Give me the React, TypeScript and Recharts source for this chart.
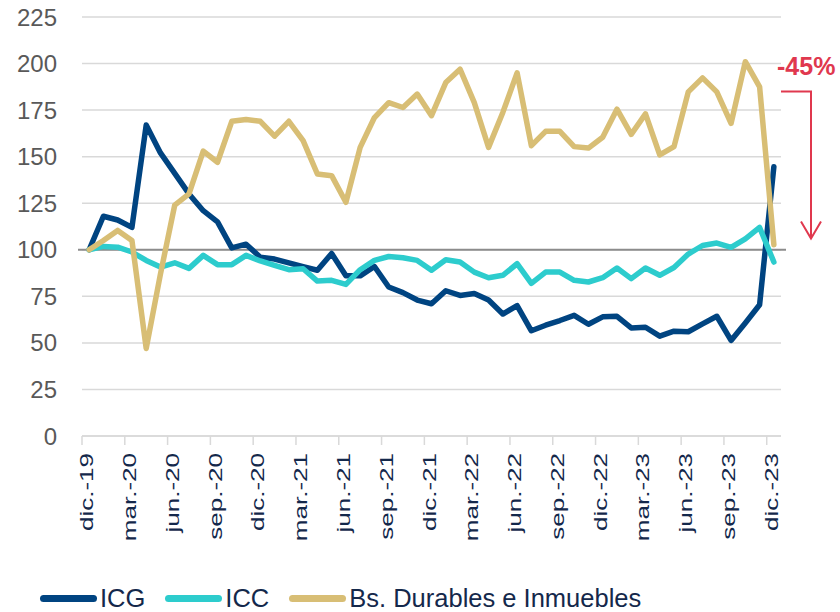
import {
  ComposedChart,
  Line,
  XAxis,
  YAxis,
  CartesianGrid,
  ReferenceLine,
  ReferenceArea,
} from 'recharts';

const months = [
  'dic.-19', 'ene.-20', 'feb.-20', 'mar.-20', 'abr.-20', 'may.-20', 'jun.-20', 'jul.-20', 'ago.-20',
  'sep.-20', 'oct.-20', 'nov.-20', 'dic.-20', 'ene.-21', 'feb.-21', 'mar.-21', 'abr.-21', 'may.-21',
  'jun.-21', 'jul.-21', 'ago.-21', 'sep.-21', 'oct.-21', 'nov.-21', 'dic.-21', 'ene.-22', 'feb.-22',
  'mar.-22', 'abr.-22', 'may.-22', 'jun.-22', 'jul.-22', 'ago.-22', 'sep.-22', 'oct.-22', 'nov.-22',
  'dic.-22', 'ene.-23', 'feb.-23', 'mar.-23', 'abr.-23', 'may.-23', 'jun.-23', 'jul.-23', 'ago.-23',
  'sep.-23', 'oct.-23', 'nov.-23', 'dic.-23',
];

const icg = [
  100, 118, 116, 112, 167, 152, 141, 130, 121, 115, 101, 103, 96, 95, 93, 91, 89, 98, 86, 86,
  91, 80, 77, 73, 71, 78, 75.5, 76.5, 73, 65.5, 70, 56.5, 59.5, 62, 64.8, 60, 64, 64.3, 58, 58.4,
  53.6, 56.3, 56, 60.2, 64.3, 51.3, 60.7, 70.5, 144.6,
];

const icc = [
  100, 101.8, 101.4, 98.8, 94.3, 90.7, 93, 90, 97, 92, 92, 97, 94, 91.6, 89.3, 89.8, 83.2, 83.6,
  81.4, 89.3, 94.3, 96.4, 95.7, 94.3, 89, 94.6, 93.4, 88, 85, 86.3, 92.5, 82, 88, 88, 83.6, 82.7,
  85, 90.2, 84.5, 90.2, 86.3, 90.5, 97.7, 102.3, 103.6, 101.3, 105.9, 112, 93.4,
];

const durables = [
  100, 105, 110.4, 105, 47, 87, 124, 130, 153, 147, 169, 170, 169, 161, 169, 158.6, 140.7, 139.8,
  125.5, 155, 171, 179, 176.4, 183.6, 172, 189.8, 197, 179, 155, 173.75, 195, 155.9, 163.6, 163.6,
  155.4, 154.6, 160.4, 175.5, 162, 173, 151, 155.4, 184.8, 192.3, 184.8, 167.9, 201, 187.5, 102.7,
];

const yTicks = [0, 25, 50, 75, 100, 125, 150, 175, 200, 225];

const seriesInfo = [
  { key: 'icg', name: 'ICG', color: '#004481' },
  { key: 'icc', name: 'ICC', color: '#2dcccd' },
  { key: 'durables', name: 'Bs. Durables e Inmuebles', color: '#d8be75' },
];

// annotation: drop of the last month
const dropLabel = '-45%';
const arrowTop = 185;
const arrowBottom = 106;

const data = months.map((m, i) => ({
  month: m,
  icg: icg[i],
  icc: icc[i],
  durables: durables[i],
}));

const W = 840;
const H = 612;
const Y_W = 82;
const RIGHT = 59;
const TOP = 17;
const X_H = 176;
const bandW = (W - Y_W - RIGHT) / months.length;

const FONT = '"Liberation Sans", Arial, sans-serif';
const NAVY = '#14284b';
const RED = '#e0384e';

function MonthTick(props: any) {
  const { x, y, payload } = props;
  const edge = x - bandW / 2;
  return (
    <g>
      <line x1={edge} y1={y} x2={edge} y2={y + 9} stroke="#d9d9d9" strokeWidth={1.5} />
      <text
        transform={`translate(${x + 4},${y + 17}) rotate(-90) scale(1.37,1)`}
        textAnchor="end"
        fontSize={19}
        fontFamily={FONT}
        fill={NAVY}
      >
        {payload.value}
      </text>
    </g>
  );
}

function DropArrow(props: any) {
  const { x, y, width, height } = props;
  const x0 = x + width;
  const xa = x0 + 30;
  const yb = y + height;
  return (
    <g>
      <text x={x0 - 4} y={y - 16} fontSize={25} fontWeight="bold" fontFamily={FONT} fill={RED}>
        {dropLabel}
      </text>
      <polyline points={`${x0},${y} ${xa},${y} ${xa},${yb}`} fill="none" stroke={RED} strokeWidth={2} />
      <polyline
        points={`${xa - 10},${yb - 17} ${xa},${yb} ${xa + 10},${yb - 17}`}
        fill="none"
        stroke={RED}
        strokeWidth={2}
      />
    </g>
  );
}

export default function App() {
  return (
    <div style={{ position: 'absolute', left: 0, top: 0, width: W, height: H, background: '#fff' }}>
      <ComposedChart width={W} height={H} data={data} margin={{ top: TOP, right: RIGHT, left: 0, bottom: 0 }}>
        <CartesianGrid vertical={false} stroke="#d9d9d9" strokeWidth={1.5} />
        <XAxis
          dataKey="month"
          scale="band"
          interval={2}
          height={X_H}
          tickSize={0}
          tickMargin={0}
          tickLine={false}
          axisLine={{ stroke: '#d9d9d9', strokeWidth: 1.5 }}
          tick={<MonthTick />}
        />
        <YAxis
          domain={[0, 225]}
          ticks={yTicks}
          width={Y_W}
          axisLine={false}
          tickLine={false}
          tickMargin={19}
          tick={{ fill: '#595959', fontSize: 24, fontFamily: FONT }}
        />
        <ReferenceLine
          y={100}
          shape={(p: any) => (
            <line x1={p.x1 - 4} y1={p.y1} x2={p.x2 + 5} y2={p.y2} stroke="#8c8c8c" strokeWidth={2} />
          )}
        />
        <ReferenceArea y1={arrowBottom} y2={arrowTop} shape={<DropArrow />} />
        {seriesInfo.map((s) => (
          <Line
            key={s.key}
            type="linear"
            dataKey={s.key}
            name={s.name}
            stroke={s.color}
            strokeWidth={5.5}
            strokeLinejoin="round"
            strokeLinecap="round"
            dot={false}
            activeDot={false}
            isAnimationActive={false}
          />
        ))}
      </ComposedChart>
      <div
        style={{
          position: 'absolute',
          left: 40,
          top: 585,
          height: 27,
          display: 'flex',
          alignItems: 'center',
          fontFamily: FONT,
          fontSize: 25.5,
          color: NAVY,
          lineHeight: '27px',
          whiteSpace: 'nowrap',
        }}
      >
        {seriesInfo.map((s) => (
          <div key={s.key} style={{ display: 'flex', alignItems: 'center', marginRight: 20 }}>
            <span
              style={{
                display: 'inline-block',
                width: 57,
                height: 7,
                borderRadius: 4,
                background: s.color,
                marginRight: 3,
              }}
            />
            <span>{s.name}</span>
          </div>
        ))}
      </div>
    </div>
  );
}
